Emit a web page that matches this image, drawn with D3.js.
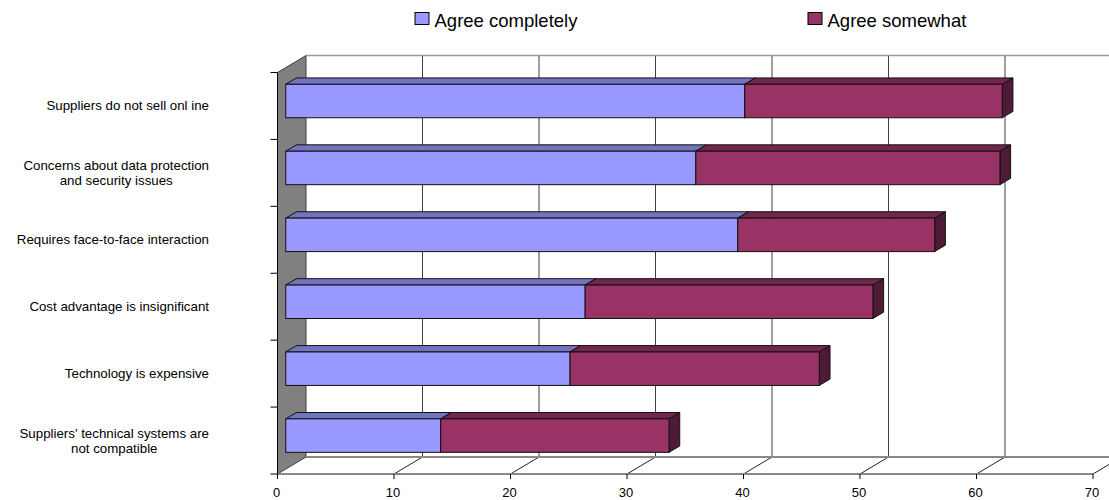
<!DOCTYPE html>
<html>
<head>
<meta charset="utf-8">
<script src="https://cdn.jsdelivr.net/npm/d3@7/dist/d3.min.js"></script>
<style>
  html, body { margin: 0; padding: 0; background: #fff; }
  svg { display: block; font-family: "Liberation Sans", Arial, sans-serif; }
</style>
</head>
<body>
<svg id="chart" width="1109" height="500"></svg>
<script>
// ---- data ----
const categories = [
  "Suppliers do not sell onl ine",
  "Concerns about data protection\nand security issues",
  "Requires face-to-face interaction",
  "Cost advantage is insignificant",
  "Technology is expensive",
  "Suppliers' technical systems are\nnot compatible"
];
const agreeCompletely = [39.4, 35.2, 38.8, 25.7, 24.4, 13.3];
const agreeSomewhat   = [22.1, 26.1, 16.9, 24.7, 21.4, 19.6];
const seriesNames = ["Agree completely", "Agree somewhat"];
const xTicks = [0, 10, 20, 30, 40, 50, 60, 70];

// ---- layout ----
const svg = d3.select("#chart");
const x = d3.scaleLinear().domain([0, 70]).range([277.5, 1093]);
const y = d3.scaleBand().domain(categories).range([72.5, 474]).padding(0);
const DX = 28.5, DY = -17;          // depth vector of the 3D box
const F0 = 0.29, F1 = 0.665;        // bar depth fraction (front / back)
const yTop = y.range()[0], yBot = y.range()[1];

const colors = {
  front: ["#9999FF", "#993366"],
  top:   ["#7373C0", "#73264D"],
  side:  ["#5C5C99", "#4F1A35"]
};

const pt = (p) => p.map(d => d.join(",")).join(" ");

// left wall
svg.append("polygon")
  .attr("points", pt([[x(0), yTop], [x(0) + DX, yTop + DY], [x(0) + DX, yBot + DY], [x(0), yBot]]))
  .attr("fill", "#808080").attr("stroke", "#404040").attr("stroke-width", 1);

// back wall gridlines
svg.append("g").selectAll("line").data(xTicks.slice(1)).join("line")
  .attr("x1", d => x(d) + DX).attr("x2", d => x(d) + DX)
  .attr("y1", yTop + DY).attr("y2", yBot + DY)
  .attr("stroke", "#404040").attr("stroke-width", 1);

// back wall top edge
svg.append("line")
  .attr("x1", x(0) + DX).attr("x2", x(70) + DX)
  .attr("y1", yTop + DY).attr("y2", yTop + DY)
  .attr("stroke", "#999").attr("stroke-width", 1.5);

// floor: diagonal gridlines
svg.append("g").selectAll("line").data(xTicks.slice(1)).join("line")
  .attr("x1", d => x(d)).attr("y1", yBot)
  .attr("x2", d => x(d) + DX).attr("y2", yBot + DY)
  .attr("stroke", "#222").attr("stroke-width", 1);

// floor edges
svg.append("line")
  .attr("x1", x(0) + DX).attr("x2", x(70) + DX)
  .attr("y1", yBot + DY).attr("y2", yBot + DY)
  .attr("stroke", "#888").attr("stroke-width", 2);
svg.append("line")
  .attr("x1", x(0)).attr("x2", x(70))
  .attr("y1", yBot).attr("y2", yBot)
  .attr("stroke", "#888").attr("stroke-width", 2);

// left axis + category ticks
svg.append("line")
  .attr("x1", x(0)).attr("x2", x(0)).attr("y1", yTop).attr("y2", yBot)
  .attr("stroke", "#000").attr("stroke-width", 1);
const bounds = categories.map(c => y(c)).concat([yBot]);
svg.append("g").selectAll("line").data(bounds).join("line")
  .attr("x1", x(0) - 7).attr("x2", x(0))
  .attr("y1", d => d).attr("y2", d => d)
  .attr("stroke", "#000").attr("stroke-width", 1);

// bottom ticks + labels
svg.append("g").selectAll("line").data(xTicks).join("line")
  .attr("x1", d => x(d)).attr("x2", d => x(d))
  .attr("y1", yBot).attr("y2", yBot + 5)
  .attr("stroke", "#000").attr("stroke-width", 1);
svg.append("g").selectAll("text").data(xTicks).join("text")
  .attr("x", d => x(d) - 1).attr("y", 497)
  .attr("text-anchor", "middle").attr("font-size", "13px").attr("fill", "#000")
  .text(d => d);

// bars (3D boxes)
const step = y.step();
const bh = step * 0.5;
const barsG = svg.append("g");
categories.forEach((c, i) => {
  const segs = [[0, agreeCompletely[i]], [agreeCompletely[i], agreeCompletely[i] + agreeSomewhat[i]]];
  const yf = y(c) + step * 0.25;  // front-plane bar top
  segs.forEach((s, k) => {
    const x0 = x(s[0]) + DX * F0, x1 = x(s[1]) + DX * F0;
    const y0 = yf + DY * F0, y1 = y0 + bh;
    const ddx = DX * (F1 - F0), ddy = DY * (F1 - F0);
    const g = barsG.append("g");
    g.append("polygon")
      .attr("points", pt([[x0, y0], [x0 + ddx, y0 + ddy], [x1 + ddx, y0 + ddy], [x1, y0]]))
      .attr("fill", colors.top[k]).attr("stroke", "#111").attr("stroke-width", 1).attr("stroke-linejoin", "round");
    g.append("polygon")
      .attr("points", pt([[x1, y0], [x1 + ddx, y0 + ddy], [x1 + ddx, y1 + ddy], [x1, y1]]))
      .attr("fill", colors.side[k]).attr("stroke", "#111").attr("stroke-width", 1).attr("stroke-linejoin", "round");
    g.append("rect")
      .attr("x", x0).attr("y", y0).attr("width", x1 - x0).attr("height", bh)
      .attr("fill", colors.front[k]).attr("stroke", "#111").attr("stroke-width", 1);
  });
});

// category labels
const labelRight = 209, lineH = 15;
categories.forEach(c => {
  const lines = c.split("\n");
  const cy = y(c) + step / 2;
  const t = svg.append("text").attr("font-size", "13.3px").attr("fill", "#000").attr("text-anchor", "middle");
  const spans = lines.map((l, j) => t.append("tspan")
    .attr("y", cy - (lines.length - 1) * lineH / 2 + j * lineH + 4.5).text(l));
  const maxW = d3.max(spans, s => s.node().getComputedTextLength());
  spans.forEach(s => s.attr("x", labelRight - maxW / 2));
});

// legend
const legendX = [415, 808];
seriesNames.forEach((n, k) => {
  svg.append("rect").attr("x", legendX[k]).attr("y", 12.5).attr("width", 14).attr("height", 12)
    .attr("fill", colors.front[k]).attr("stroke", "#000").attr("stroke-width", 1);
  svg.append("text").attr("x", legendX[k] + 19.5).attr("y", 26.5)
    .attr("font-size", "18.5px").attr("fill", "#000").text(n);
});
</script>
</body>
</html>
